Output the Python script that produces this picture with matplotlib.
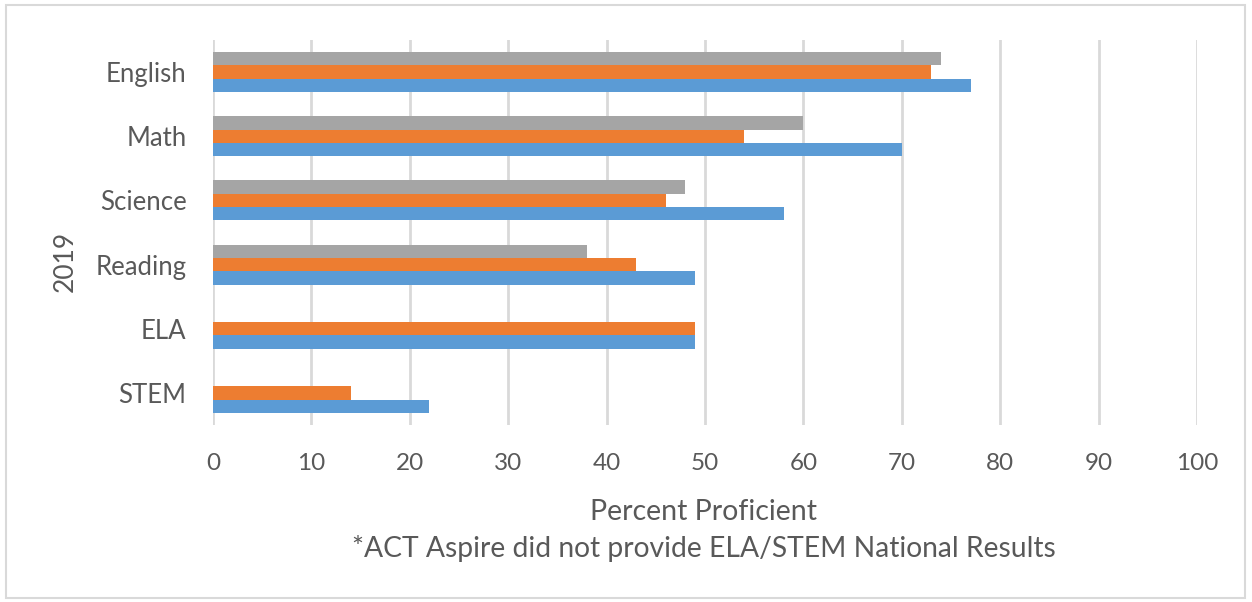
import numpy as np
import matplotlib.pyplot as plt
from matplotlib.patches import Rectangle

plt.rcParams["font.family"] = ["Lato", "DejaVu Sans"]

# Donnees (lecture du graphique)
subjects = ["STEM", "ELA", "Reading", "Science", "Math", "English"]
blue_vals = [22, 49, 49, 58, 70, 77]
orange_vals = [14, 49, 43, 46, 54, 73]
gray_vals = [0, 0, 38, 48, 60, 74]
x_ticks = [0, 10, 20, 30, 40, 50, 60, 70, 80, 90, 100]

C_BLUE, C_ORANGE, C_GRAY = "#5B9BD5", "#ED7D31", "#A5A5A5"
TXT = "#595959"

fig = plt.figure(figsize=(12.52, 6.02), dpi=100)
fig.patches.append(Rectangle((6 / 1252, 4 / 602), 1239 / 1252, 593 / 602,
                             transform=fig.transFigure, fill=False,
                             edgecolor="#D9D9D9", lw=1.5))
ax = fig.add_axes([213 / 1252, 1 - 425 / 602, 984 / 1252, 385 / 602])

y = np.arange(len(subjects))
h = 0.208
ax.barh(y - h, blue_vals, height=h, color=C_BLUE, zorder=3)
ax.barh(y, orange_vals, height=h, color=C_ORANGE, zorder=3)
ax.barh(y + h, gray_vals, height=h, color=C_GRAY, zorder=3)

ax.set_xlim(0, 100)
ax.set_ylim(-0.5, len(subjects) - 0.5)
ax.set_xticks(x_ticks)
ax.set_yticks(y)
ax.set_yticklabels(subjects)
ax.grid(axis="x", color="#D9D9D9", lw=2, zorder=0)
ax.grid(axis="y", visible=False)
for s in ax.spines.values():
    s.set_visible(False)
ax.tick_params(axis="both", length=0, colors=TXT)
ax.tick_params(axis="x", pad=20, labelsize=17.5)
ax.tick_params(axis="y", pad=19, labelsize=18.5)

fig.text(65 / 1252, 1 - 261 / 602, "2019", rotation=90, ha="center", va="center",
         fontsize=19, color=TXT)
fig.text(703 / 1252, 1 - 512 / 602, "Percent Proficient", ha="center", va="center",
         fontsize=20.5, color=TXT)
fig.text(704 / 1252, 1 - 549 / 602, "*ACT Aspire did not provide ELA/STEM National Results",
         ha="center", va="center", fontsize=20.3, color=TXT)

fig.savefig("out.png", dpi=100)
